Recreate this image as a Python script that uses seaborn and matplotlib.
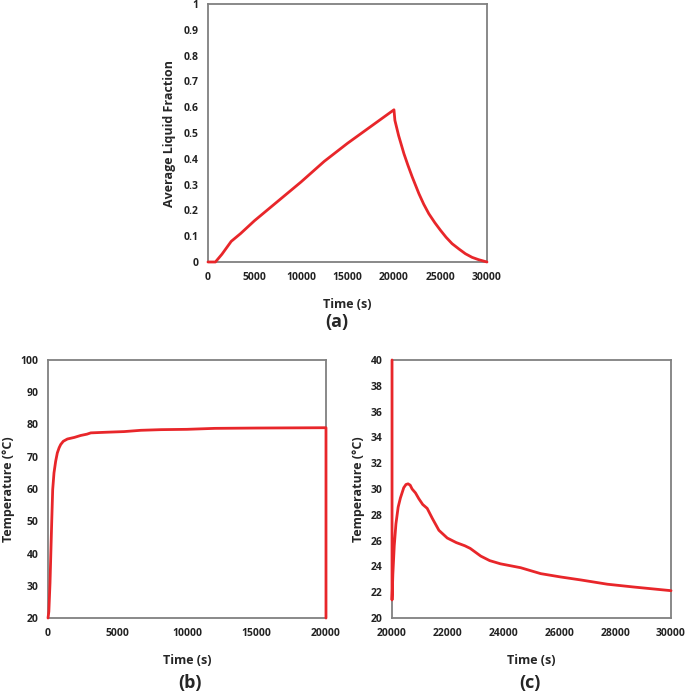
import matplotlib
matplotlib.use("Agg")
import matplotlib.pyplot as plt
import seaborn as sns
import pandas as pd

# (a) average liquid fraction vs time
t_a = [0, 800, 1500, 2500, 3500, 5000, 7500, 10000, 12500, 15000, 17500, 20000,
       20100, 20500, 21070, 21500, 21960, 22680, 23200, 23750, 24400, 25000, 25600,
       26250, 27000, 27680, 28400, 29100, 30000]
lf_a = [0, 0, 0.03, 0.08, 0.11, 0.16, 0.235, 0.31, 0.39, 0.46, 0.525, 0.59,
        0.549, 0.49, 0.42, 0.375, 0.33, 0.265, 0.224, 0.187, 0.152, 0.123, 0.096,
        0.071, 0.05, 0.032, 0.018, 0.009, 0.0]

# (b) temperature during charging
t_b = [0, 60, 144, 264, 336, 430, 550, 670, 800, 913, 1100, 1394, 1900, 2355, 2800,
       3077, 4200, 5480, 6680, 8125, 10000, 12000, 15000, 20000, 20000]
temp_b = [20, 22, 30.9, 49.5, 59.8, 65, 68.6, 71.2, 72.8, 73.8, 74.8, 75.5, 76.0, 76.6,
          77.0, 77.4, 77.6, 77.8, 78.2, 78.4, 78.5, 78.8, 78.9, 79.0, 20]

# (c) temperature during discharging
t_c = [20000, 20000, 20030, 20080, 20140, 20220, 20300, 20420, 20500, 20575, 20650,
       20720, 20840, 20960, 21100, 21260, 21450, 21680, 21980, 22300, 22610, 22800,
       23180, 23500, 23890, 24610, 25000, 25330, 26050, 26770, 27720, 28680, 30000]
temp_c = [40, 21.4, 23.4, 25.6, 27.3, 28.6, 29.3, 30.1, 30.35, 30.4, 30.3,
          30.0, 29.7, 29.25, 28.8, 28.5, 27.7, 26.8, 26.2, 25.85, 25.6, 25.4,
          24.8, 24.45, 24.2, 23.9, 23.65, 23.44, 23.18, 22.95, 22.62, 22.4, 22.12]

sns.set_style("white")
plt.rcParams["font.family"] = ["Open Sans", "DejaVu Sans"]
plt.rcParams["font.weight"] = "bold"

red = "#e8262a"
spine = "#808080"

fig = plt.figure(figsize=(6.85, 6.92), dpi=100)
ax_a = fig.add_axes([0.3036, 0.6214, 0.4073, 0.3728])
ax_b = fig.add_axes([0.0701, 0.1069, 0.4058, 0.3729])
ax_c = fig.add_axes([0.5723, 0.1069, 0.4073, 0.3729])

df_a = pd.DataFrame({"t": t_a, "v": lf_a})
df_b = pd.DataFrame({"t": t_b, "v": temp_b})
df_c = pd.DataFrame({"t": t_c, "v": temp_c})

for df, ax in ((df_a, ax_a), (df_b, ax_b), (df_c, ax_c)):
    sns.lineplot(data=df, x="t", y="v", sort=False, estimator=None,
                 color=red, lw=2, ax=ax, clip_on=False, zorder=3)

ax_a.set_xlim(0, 30000)
ax_a.set_ylim(0, 1)
ax_a.set_xticks(range(0, 30001, 5000))
ax_a.set_yticks([i / 10 for i in range(11)])
ax_a.set_yticklabels(["0", "0.1", "0.2", "0.3", "0.4", "0.5", "0.6", "0.7", "0.8", "0.9", "1"])
ax_a.set_ylabel("Average Liquid Fraction", fontsize=9, fontweight="bold", labelpad=5)

ax_b.set_xlim(0, 20000)
ax_b.set_ylim(20, 100)
ax_b.set_xticks(range(0, 20001, 5000))
ax_b.set_yticks(range(20, 101, 10))
ax_b.set_ylabel("Temperature (°C)", fontsize=9, fontweight="bold", labelpad=4)

ax_c.set_xlim(20000, 30000)
ax_c.set_ylim(20, 40)
ax_c.set_xticks(range(20000, 30001, 2000))
ax_c.set_yticks(range(20, 41, 2))
ax_c.set_ylabel("Temperature (°C)", fontsize=9, fontweight="bold", labelpad=4)

for ax in (ax_a, ax_b, ax_c):
    ax.set_xlabel("Time (s)", fontsize=9, fontweight="bold", labelpad=11)
    for s in ax.spines.values():
        s.set_color(spine)
        s.set_linewidth(1.3)
        s.set_visible(True)
    ax.tick_params(axis="both", direction="out", length=3, width=1, color="#404040",
                   labelsize=7.5, labelcolor="#222222", pad=4)
    for lab in ax.get_xticklabels() + ax.get_yticklabels():
        lab.set_fontweight("bold")

fig.text(0.491, 1 - 322 / 692, "(a)", ha="center", va="center", fontsize=13, fontweight="bold")
fig.text(0.277, 1 - 683 / 692, "(b)", ha="center", va="center", fontsize=13, fontweight="bold")
fig.text(0.774, 1 - 683 / 692, "(c)", ha="center", va="center", fontsize=13, fontweight="bold")

fig.savefig("out.png", dpi=100)
